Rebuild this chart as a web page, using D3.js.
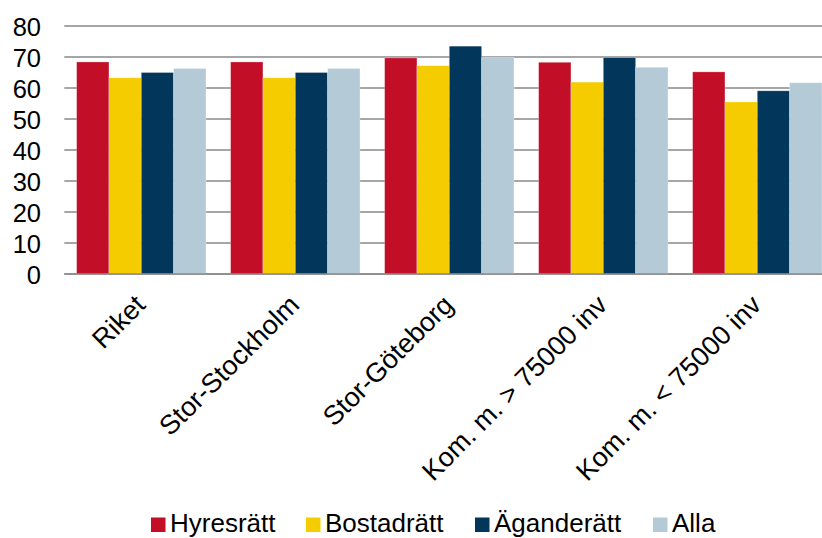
<!DOCTYPE html>
<html>
<head>
<meta charset="utf-8">
<script src="https://cdn.jsdelivr.net/npm/d3@7/dist/d3.min.js"></script>
<style>
  html, body { margin: 0; padding: 0; background: #fff; }
  svg { display: block; }
  text { font-family: "Liberation Sans", Arial, sans-serif; fill: #000; }
</style>
</head>
<body>
<svg id="chart" width="822" height="538"></svg>
<script>
// Regions along the x axis
const categories = ["Riket", "Stor-Stockholm", "Stor-Göteborg", "Kom. m. > 75000 inv", "Kom. m. < 75000 inv"];
// Tenure types (series)
const seriesNames = ["Hyresrätt", "Bostadrätt", "Äganderätt", "Alla"];
const seriesColors = ["#C20E26", "#F5CC00", "#02365A", "#B5CAD7"];
// Values per series, one per region
const hyresratt  = [68.4, 68.4, 69.7, 68.3, 65.2];
const bostadratt = [63.3, 63.3, 67.2, 61.9, 55.5];
const aganderatt = [65.0, 65.0, 73.5, 69.8, 59.1];
const alla       = [66.3, 66.3, 69.9, 66.7, 61.7];
const yTicks = [0, 10, 20, 30, 40, 50, 60, 70, 80];

const seriesValues = [hyresratt, bostadratt, aganderatt, alla];
const FONT = '"Liberation Sans", Arial, sans-serif';

const svg = d3.select("#chart");
const plotLeft = 64.3, plotRight = 834.3, plotTop = 26, plotBottom = 274;

const x0 = d3.scaleBand().domain(categories).range([plotLeft, plotRight]).paddingInner(0.16).paddingOuter(0.08);
const x1 = d3.scaleBand().domain(seriesNames).range([0, x0.bandwidth()]);
const y = d3.scaleLinear().domain([0, 80]).range([plotBottom, plotTop]);

// Horizontal gridlines
svg.append("g")
  .selectAll("line")
  .data(yTicks)
  .join("line")
  .attr("x1", plotLeft).attr("x2", plotRight)
  .attr("y1", d => y(d)).attr("y2", d => y(d))
  .attr("stroke", "#888").attr("stroke-width", 1.6);

// Y axis tick labels
const yAxis = d3.axisLeft(y).tickValues(yTicks).tickSize(0).tickPadding(0);
const yg = svg.append("g").attr("transform", "translate(41,0)").call(yAxis);
yg.select(".domain").remove();
yg.selectAll("text")
  .style("font-family", FONT)
  .style("font-size", "25.5px")
  .attr("fill", "#000")
  .attr("dy", "0.36em");

// Bars
const groups = svg.append("g")
  .selectAll("g")
  .data(categories)
  .join("g")
  .attr("transform", d => `translate(${x0(d)},0)`);

groups.selectAll("rect")
  .data((c, i) => seriesNames.map((s, j) => ({ s, j, v: seriesValues[j][i] })))
  .join("rect")
  .attr("x", d => x1(d.s))
  .attr("width", x1.bandwidth())
  .attr("y", d => y(d.v))
  .attr("height", d => y(0) - y(d.v))
  .attr("fill", d => seriesColors[d.j])
  .attr("stroke", "rgba(255,255,255,0.35)")
  .attr("stroke-width", 0.8);

// Baseline on top of bars
svg.append("line")
  .attr("x1", plotLeft).attr("x2", plotRight)
  .attr("y1", y(0)).attr("y2", y(0))
  .attr("stroke", "#888").attr("stroke-width", 1.6);

// Rotated category labels
svg.append("g")
  .selectAll("text")
  .data(categories)
  .join("text")
  .attr("transform", d => `translate(${x0(d) + x0.bandwidth() / 2 - 8},${293}) rotate(-45)`)
  .attr("text-anchor", "end")
  .attr("dy", "0.71em")
  .style("font-family", FONT)
  .style("font-size", "27px")
  .text(d => d);

// Legend
const legendX = [151, 306, 475, 653];
const legend = svg.append("g")
  .selectAll("g")
  .data(seriesNames)
  .join("g")
  .attr("transform", (d, i) => `translate(${legendX[i]},0)`);
legend.append("rect")
  .attr("x", 0).attr("y", 517.5).attr("width", 14.5).attr("height", 14.5)
  .attr("fill", (d, i) => seriesColors[i]);
legend.append("text")
  .attr("x", 19).attr("y", 531.5)
  .style("font-family", FONT)
  .style("font-size", "26px")
  .text(d => d);
</script>
</body>
</html>
